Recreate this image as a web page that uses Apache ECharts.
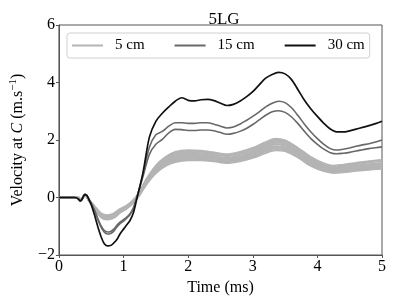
<!DOCTYPE html>
<html><head><meta charset="utf-8">
<script src="https://cdn.jsdelivr.net/npm/echarts@6/dist/echarts.min.js"></script>
<style>html,body{margin:0;padding:0;background:#fff}#c{width:395px;height:304px}</style>
</head><body><div id="c"></div>
<script>
// time axis for 15 cm and 30 cm curves (ms)
const T = [0,0.25,0.3,0.33,0.36,0.4,0.43,0.47,0.5,0.55,0.6,0.65,0.7,0.75,0.8,0.85,0.9,0.95,1.0,1.05,1.1,1.15,1.2,1.3,1.4,1.5,1.6,1.7,1.8,1.9,2.0,2.1,2.2,2.3,2.4,2.5,2.6,2.7,2.8,2.9,3.0,3.1,3.2,3.3,3.4,3.5,3.6,3.7,3.8,3.9,4.0,4.1,4.2,4.3,4.4,4.5,4.6,4.7,4.8,4.9,5.0];
const v30 = [0,0,-0.05,-0.12,-0.05,0.1,0.08,-0.1,-0.25,-0.6,-1.0,-1.35,-1.6,-1.68,-1.67,-1.58,-1.45,-1.25,-1.1,-0.95,-0.8,-0.55,-0.1,0.85,2.1,2.65,2.93,3.15,3.35,3.47,3.38,3.36,3.4,3.41,3.37,3.28,3.2,3.24,3.35,3.5,3.68,3.92,4.15,4.28,4.35,4.3,4.1,3.75,3.38,3.08,2.82,2.58,2.38,2.28,2.28,2.32,2.38,2.44,2.5,2.57,2.65];
const v15a = [0,0,-0.05,-0.12,-0.05,0.1,0.08,-0.08,-0.2,-0.45,-0.75,-1.02,-1.2,-1.27,-1.25,-1.17,-1.02,-0.9,-0.82,-0.72,-0.6,-0.4,-0.05,0.8,1.75,2.18,2.3,2.48,2.6,2.6,2.58,2.58,2.6,2.6,2.55,2.48,2.42,2.45,2.55,2.68,2.82,2.98,3.15,3.28,3.35,3.3,3.12,2.85,2.55,2.28,2.05,1.85,1.7,1.65,1.68,1.72,1.78,1.83,1.87,1.93,2.0];
const v15b = [0,0,-0.05,-0.12,-0.05,0.1,0.08,-0.08,-0.2,-0.43,-0.72,-0.98,-1.14,-1.2,-1.18,-1.1,-0.96,-0.85,-0.77,-0.68,-0.56,-0.37,-0.03,0.72,1.5,1.85,2.02,2.25,2.37,2.36,2.33,2.33,2.35,2.35,2.32,2.26,2.2,2.23,2.3,2.4,2.54,2.7,2.86,2.98,3.02,2.96,2.8,2.57,2.3,2.05,1.85,1.68,1.56,1.52,1.54,1.57,1.62,1.66,1.7,1.73,1.76];
// time axis for 5 cm curves (ms)
const LT = [0,0.3,0.34,0.4,0.47,0.55,0.65,0.75,0.85,0.95,1.05,1.15,1.25,1.35,1.5,1.65,1.8,2.0,2.2,2.4,2.6,2.8,3.0,3.2,3.35,3.5,3.7,3.9,4.1,4.25,4.4,4.6,4.8,5.0];
const v5a = [0,0,-0.1,0.1,-0.1,-0.3,-0.55,-0.62,-0.56,-0.4,-0.28,-0.1,0.2,0.62,1.1,1.4,1.58,1.64,1.62,1.56,1.5,1.58,1.72,1.92,2.04,1.98,1.72,1.4,1.18,1.1,1.14,1.2,1.26,1.3];
const v5b = [0,0,-0.1,0.1,-0.1,-0.32,-0.58,-0.65,-0.6,-0.43,-0.3,-0.12,0.18,0.58,1.04,1.34,1.52,1.58,1.57,1.5,1.44,1.52,1.66,1.86,1.98,1.93,1.67,1.35,1.12,1.04,1.08,1.16,1.22,1.27];
const v5c = [0,0,-0.1,0.1,-0.11,-0.33,-0.6,-0.68,-0.62,-0.45,-0.32,-0.14,0.16,0.55,1.0,1.28,1.46,1.52,1.5,1.44,1.38,1.45,1.6,1.8,1.92,1.87,1.62,1.3,1.07,1.0,1.03,1.1,1.15,1.2];
const v5d = [0,0,-0.1,0.1,-0.11,-0.35,-0.62,-0.7,-0.64,-0.47,-0.34,-0.15,0.14,0.52,0.96,1.24,1.4,1.46,1.45,1.4,1.33,1.4,1.54,1.74,1.86,1.81,1.56,1.25,1.03,0.96,0.99,1.05,1.1,1.14];
const v5e = [0,0,-0.1,0.1,-0.12,-0.36,-0.64,-0.72,-0.66,-0.49,-0.35,-0.16,0.12,0.5,0.92,1.19,1.34,1.4,1.4,1.35,1.28,1.35,1.48,1.68,1.78,1.74,1.5,1.2,1.0,0.93,0.95,1.0,1.05,1.08];
const v5f = [0,0,-0.1,0.1,-0.12,-0.37,-0.66,-0.74,-0.68,-0.5,-0.37,-0.17,0.11,0.47,0.88,1.14,1.29,1.35,1.35,1.3,1.24,1.3,1.43,1.62,1.72,1.68,1.45,1.15,0.96,0.89,0.91,0.96,1.0,1.04];
const v5g = [0,0,-0.1,0.1,-0.12,-0.38,-0.68,-0.76,-0.7,-0.52,-0.38,-0.18,0.1,0.45,0.85,1.1,1.24,1.3,1.3,1.26,1.2,1.26,1.38,1.55,1.65,1.62,1.4,1.1,0.92,0.86,0.88,0.93,0.97,1.0];
const legendNames = ['5 cm','15 cm','30 cm'];
const xTicks = [0,1,2,3,4,5];
const yTicks = [-2,0,2,4,6];

const FONT = "'Liberation Serif','DejaVu Serif',serif";
const zip = (t, v) => t.map((x, i) => [x, v[i]]);
const mk = (name, t, v, color, w) => ({
  type: 'line', name, data: zip(t, v), showSymbol: false, symbol: 'none',
  smooth: 0.3, lineStyle: { color, width: w }, itemStyle: { color }, z: 2
});
const light = '#b4b4b4', mid = '#686868', dark = '#111111';
const series = [
  ...[v5a, v5b, v5c, v5d, v5e, v5f, v5g].map(v => mk(legendNames[0], LT, v, light, 2.2)),
  mk(legendNames[1], T, v15a, mid, 1.6), mk(legendNames[1], T, v15b, mid, 1.6),
  mk(legendNames[2], T, v30, dark, 1.7)
];
const chart = echarts.init(document.getElementById('c'), null, { renderer: 'canvas' });
chart.setOption({
  animation: false,
  backgroundColor: '#fff',
  title: { text: '5LG', left: 219, top: 6, textAlign: 'center',
    textStyle: { fontFamily: FONT, fontSize: 17, fontWeight: 'normal', color: '#000' } },
  grid: { left: 57, right: 13, top: 25, bottom: 49, show: true, borderColor: '#555', borderWidth: 1, backgroundColor: 'transparent' },
  legend: {
    data: legendNames, left: 67, top: 33, padding: [5, 5, 5, 5], itemGap: 30,
    itemWidth: 31, itemHeight: 2, icon: 'rect',
    borderColor: '#d0d0d0', borderWidth: 1, borderRadius: 3, backgroundColor: 'rgba(255,255,255,0.8)',
    textStyle: { fontFamily: FONT, fontSize: 15, color: '#000', padding: [0, 0, 0, 7] }
  },
  xAxis: {
    type: 'value', min: xTicks[0], max: xTicks[xTicks.length - 1], interval: 1,
    name: 'Time (ms)', nameLocation: 'middle', nameGap: 14,
    nameTextStyle: { fontFamily: FONT, fontSize: 16, color: '#000' },
    axisLine: { show: true, onZero: false, lineStyle: { color: '#555', width: 1 } },
    axisTick: { show: true, length: 3, lineStyle: { color: '#555' } },
    axisLabel: { fontFamily: FONT, fontSize: 16, color: '#000', margin: 4 },
    splitLine: { show: false }
  },
  yAxis: {
    type: 'value', min: yTicks[0], max: yTicks[yTicks.length - 1], interval: 2,
    name: 'Velocity at {i|C} (m.s{s|−1})', nameLocation: 'middle', nameGap: 29, nameRotate: 90,
    nameTextStyle: { fontFamily: FONT, fontSize: 16, color: '#000', lineHeight: 19,
      rich: { i: { fontFamily: FONT, fontSize: 16, fontStyle: 'italic', color: '#000' },
              s: { fontFamily: FONT, fontSize: 11, color: '#000', verticalAlign: 'top', lineHeight: 19 } } },
    axisLine: { show: true, onZero: false, lineStyle: { color: '#555', width: 1 } },
    axisTick: { show: true, length: 3, lineStyle: { color: '#555' } },
    axisLabel: { fontFamily: FONT, fontSize: 16, color: '#000', margin: 4,
      formatter: v => (v < 0 ? '\u2212' + Math.abs(v) : String(v)) },
    splitLine: { show: false }
  },
  series
});
</script></body></html>
